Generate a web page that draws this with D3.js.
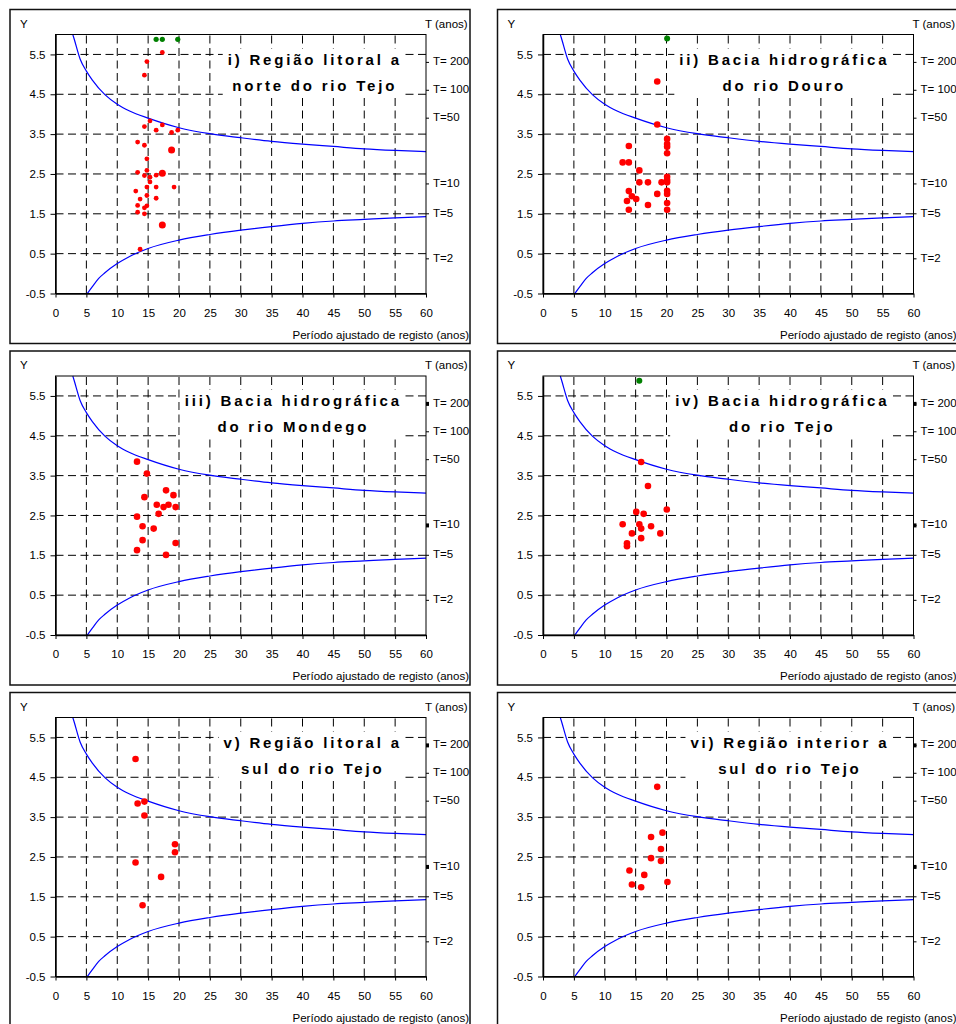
<!DOCTYPE html>
<html>
<head>
<meta charset="utf-8">
<title>Período ajustado de registo</title>
<script src="https://d3js.org/d3.v7.min.js"></script>
<style>
  body { margin: 0; background: #fff; }
  text { font-family: "Liberation Sans", Arial, sans-serif; fill: #000; }
</style>
</head>
<body>
<svg id="chart" width="956" height="1024"></svg>
<script>
// tick values / labels
var xTicks = [0, 5, 10, 15, 20, 25, 30, 35, 40, 45, 50, 55, 60];
var yTicks = [-0.5, 0.5, 1.5, 2.5, 3.5, 4.5, 5.5];
var yTickLabels = ["-0.5", "0.5", "1.5", "2.5", "3.5", "4.5", "5.5"];
var gridX = [5, 10, 15, 20, 25, 30, 35, 40, 45, 50, 55];
var gridY = [0.5, 1.5, 2.5, 3.5, 4.5, 5.5];
var tLabels = ["T=2", "T=5", "T=10", "T=50", "T= 100", "T= 200"];
var tValues = [0.37, 1.5, 2.25, 3.9, 4.6, 5.3];

// confidence band curves
var upperBand = [[2.8, 6.0], [3, 5.9], [4, 5.38], [5, 5.08], [6, 4.85], [8, 4.49], [10, 4.25],
  [12, 4.08], [15, 3.9], [20, 3.66], [25, 3.51], [30, 3.41], [35, 3.32], [40, 3.25],
  [45, 3.19], [50, 3.13], [55, 3.09], [60, 3.06]];
var lowerBand = [[5.15, -0.5], [6, -0.32], [7, -0.12], [8, 0.02], [10, 0.25], [12, 0.43],
  [15, 0.63], [20, 0.84], [25, 0.98], [30, 1.09], [35, 1.18], [40, 1.26], [45, 1.32],
  [50, 1.36], [55, 1.4], [60, 1.43]];

// i) norte do Tejo
var red1 = [[17.3, 5.55], [14.8, 5.32], [14.4, 4.98], [15.3, 3.83], [14.4, 3.69], [17.3, 3.73],
  [16.3, 3.6], [18.8, 3.54], [19.8, 3.6], [13.3, 3.3], [14.4, 3.22], [14.8, 2.88], [13.3, 2.54],
  [14.8, 2.59], [14.4, 2.46], [15.3, 2.42], [16.3, 2.47], [15.3, 2.3], [14.8, 2.17], [16.3, 2.17],
  [19.2, 2.17], [13.0, 2.07], [14.8, 1.96], [16.3, 1.89], [13.7, 1.87], [14.8, 1.7], [13.3, 1.71],
  [14.4, 1.65], [14.4, 1.5], [13.3, 1.54], [13.7, 0.61]];
var red1Big = [[18.8, 3.1], [17.3, 2.52], [17.3, 1.22]];
var green1 = [[16.3, 5.88], [17.3, 5.88], [19.8, 5.88]];

// ii) Douro
var red2 = [[18.5, 4.82], [18.5, 3.74], [20.1, 3.38], [20.1, 3.25], [20.1, 3.18], [20.1, 3.02],
  [13.9, 3.2], [12.9, 2.79], [13.9, 2.79], [15.6, 2.59], [15.6, 2.29], [17.0, 2.29], [19.2, 2.29],
  [20.1, 2.43], [20.1, 2.35], [20.1, 2.29], [13.9, 2.07], [20.1, 2.08], [20.1, 2.0], [18.5, 2.0],
  [14.4, 1.94], [15.1, 1.87], [13.6, 1.82], [17.0, 1.72], [20.1, 1.77], [13.9, 1.6], [20.1, 1.6]];
var green2 = [[20.1, 5.9]];

// iii) Mondego
var red3 = [[13.2, 3.85], [14.8, 3.55], [17.9, 3.13], [14.4, 2.96], [19.1, 3.01], [16.4, 2.77],
  [18.3, 2.77], [17.5, 2.71], [19.45, 2.71], [16.7, 2.54], [13.2, 2.47], [14.1, 2.23],
  [15.9, 2.17], [14.1, 1.88], [19.45, 1.81], [13.2, 1.63], [17.9, 1.51]];

// iv) Tejo
var red4 = [[15.9, 3.84], [17.0, 3.24], [20.05, 2.65], [15.1, 2.59], [16.3, 2.54], [15.6, 2.28],
  [12.9, 2.28], [17.5, 2.23], [15.9, 2.17], [14.4, 2.05], [19.0, 2.05], [15.9, 1.93],
  [13.6, 1.8], [13.6, 1.73]];
var green4 = [[15.6, 5.88]];

// v) litoral sul
var red5 = [[12.96, 4.96], [13.3, 3.84], [14.4, 3.89], [14.4, 3.54], [19.35, 2.82], [19.35, 2.62],
  [12.96, 2.36], [17.1, 2.0], [14.1, 1.29]];

// vi) interior sul
var red6 = [[18.5, 4.26], [19.35, 3.11], [17.5, 3.0], [19.1, 2.7], [17.5, 2.47], [19.1, 2.4],
  [14.0, 2.16], [16.4, 2.05], [14.4, 1.81], [15.9, 1.74], [20.15, 1.87]];

var panels = [
  { col: 0, row: 0, title: ["i) Região litoral a", "norte do rio Tejo"], red: red1, big: red1Big, green: green1, r: 2.4, marks: false },
  { col: 1, row: 0, title: ["ii) Bacia hidrográfica", "do rio Douro"], red: red2, big: [], green: green2, r: 3.3, marks: false },
  { col: 0, row: 1, title: ["iii) Bacia hidrográfica", "do rio Mondego"], red: red3, big: [], green: [], r: 3.3, marks: true },
  { col: 1, row: 1, title: ["iv) Bacia hidrográfica", "do rio Tejo"], red: red4, big: [], green: green4, r: 3.3, marks: true },
  { col: 0, row: 2, title: ["v) Região litoral a", "sul do rio Tejo"], red: red5, big: [], green: [], r: 3.3, marks: true },
  { col: 1, row: 2, title: ["vi) Região interior a", "sul do rio Tejo"], red: red6, big: [], green: [], r: 3.3, marks: true }
];

var frameX = [10, 497.5], frameY = [9.5, 351, 692.5];
var frameW = 460, frameH = 334;
var plotL = 45.5, plotT = 25, plotW = 370.5, plotH = 259;

var svg = d3.select("#chart");
svg.append("rect").attr("width", 956).attr("height", 1024).attr("fill", "#fff");

var x = d3.scaleLinear().domain([0, 60]).range([0, plotW]);
var y = d3.scaleLinear().domain([-0.5, 6]).range([plotH, 0]);

var line = d3.line()
  .x(function(d) { return x(d[0]); })
  .y(function(d) { return y(d[1]); })
  .curve(d3.curveMonotoneX);

panels.forEach(function(pn) {
  var g = svg.append("g")
    .attr("transform", "translate(" + frameX[pn.col] + "," + frameY[pn.row] + ")");

  g.append("rect")
    .attr("width", frameW).attr("height", frameH)
    .attr("fill", "none").attr("stroke", "#111").attr("stroke-width", 1.5);

  var p = g.append("g").attr("transform", "translate(" + plotL + "," + plotT + ")");

  // dashed grid
  p.selectAll(".gh").data(gridY).join("line")
    .attr("x1", 0).attr("x2", plotW)
    .attr("y1", function(d) { return y(d); }).attr("y2", function(d) { return y(d); })
    .attr("stroke", "#000").attr("stroke-width", 1).attr("stroke-dasharray", "8,4.5");
  p.selectAll(".gv").data(gridX).join("line")
    .attr("y1", plotH).attr("y2", 0)
    .attr("x1", function(d) { return x(d); }).attr("x2", function(d) { return x(d); })
    .attr("stroke", "#000").attr("stroke-width", 1).attr("stroke-dasharray", "8,4.5");

  // title with white box behind it
  var tg = g.append("g");
  var box = tg.append("rect").attr("fill", "#fff");
  var t1 = tg.append("text")
    .attr("x", 391.8).attr("y", 55)
    .attr("text-anchor", "end")
    .attr("font-size", 15).attr("font-weight", "bold")
    .attr("letter-spacing", 2.8)
    .text(pn.title[0]);
  var len = t1.node().getComputedTextLength();
  tg.append("text")
    .attr("x", 391.8 - len / 2).attr("y", 81)
    .attr("text-anchor", "middle")
    .attr("font-size", 15).attr("font-weight", "bold")
    .attr("letter-spacing", 2.8)
    .text(pn.title[1]);
  var bb = tg.node().getBBox();
  box.attr("x", bb.x - 5).attr("y", bb.y - 2)
    .attr("width", bb.width + 6).attr("height", bb.height + 4);

  // bands
  p.append("path").datum(upperBand).attr("d", line)
    .attr("fill", "none").attr("stroke", "#0000ff").attr("stroke-width", 1.2);
  p.append("path").datum(lowerBand).attr("d", line)
    .attr("fill", "none").attr("stroke", "#0000ff").attr("stroke-width", 1.2);

  // plot box
  p.append("rect").attr("width", plotW).attr("height", plotH)
    .attr("fill", "none").attr("stroke", "#000").attr("stroke-width", 1);

  // axes
  var ay = p.append("g")
    .call(d3.axisLeft(y).tickValues(yTicks)
      .tickFormat(function(d, i) { return yTickLabels[i]; })
      .tickSize(5).tickPadding(5).tickSizeOuter(0));
  var ax = p.append("g")
    .attr("transform", "translate(0," + plotH + ")")
    .call(d3.axisBottom(x).tickValues(xTicks).tickSize(4).tickPadding(11).tickSizeOuter(0));
  [ay, ax].forEach(function(a) {
    a.attr("font-family", null).attr("font-size", 11.5);
    a.selectAll("text").attr("fill", "#000");
    a.selectAll("line").attr("stroke", "#000");
    a.select(".domain").attr("stroke", "#000").attr("stroke-width", 1.5);
  });

  // return period axis on the right
  p.selectAll(".tt").data(tValues).join("line")
    .attr("x1", plotW).attr("x2", plotW + 3)
    .attr("y1", function(d) { return y(d); }).attr("y2", function(d) { return y(d); })
    .attr("stroke", "#000").attr("stroke-width", 1);
  if (pn.marks) {
    p.selectAll(".tm").data([tValues[2], tValues[5]]).join("rect")
      .attr("x", plotW).attr("y", function(d) { return y(d) - 2; })
      .attr("width", 3).attr("height", 4).attr("fill", "#000");
  }
  p.selectAll(".tl").data(tValues).join("text")
    .attr("x", plotW + 7)
    .attr("y", function(d) { return y(d) - 1; })
    .attr("dy", "0.35em")
    .attr("font-size", 11.5)
    .text(function(d, i) { return tLabels[i]; });

  // points
  p.selectAll(".pr").data(pn.red).join("circle")
    .attr("cx", function(d) { return x(d[0]); }).attr("cy", function(d) { return y(d[1]); })
    .attr("r", pn.r).attr("fill", "#ff0000");
  p.selectAll(".pb").data(pn.big).join("circle")
    .attr("cx", function(d) { return x(d[0]); }).attr("cy", function(d) { return y(d[1]); })
    .attr("r", 3.5).attr("fill", "#ff0000");
  p.selectAll(".pg").data(pn.green).join("circle")
    .attr("cx", function(d) { return x(d[0]); }).attr("cy", function(d) { return y(d[1]); })
    .attr("r", pn.r === 2.4 ? 2.6 : 3).attr("fill", "#008000");

  // axis captions
  g.append("text").attr("x", 10).attr("y", 18).attr("font-size", 11.5).text("Y");
  g.append("text").attr("x", 415).attr("y", 18).attr("font-size", 11.5).text("T (anos)");
  g.append("text").attr("x", 459).attr("y", 329).attr("text-anchor", "end")
    .attr("font-size", 11.5).text("Período ajustado de registo (anos)");
});
</script>
</body>
</html>
